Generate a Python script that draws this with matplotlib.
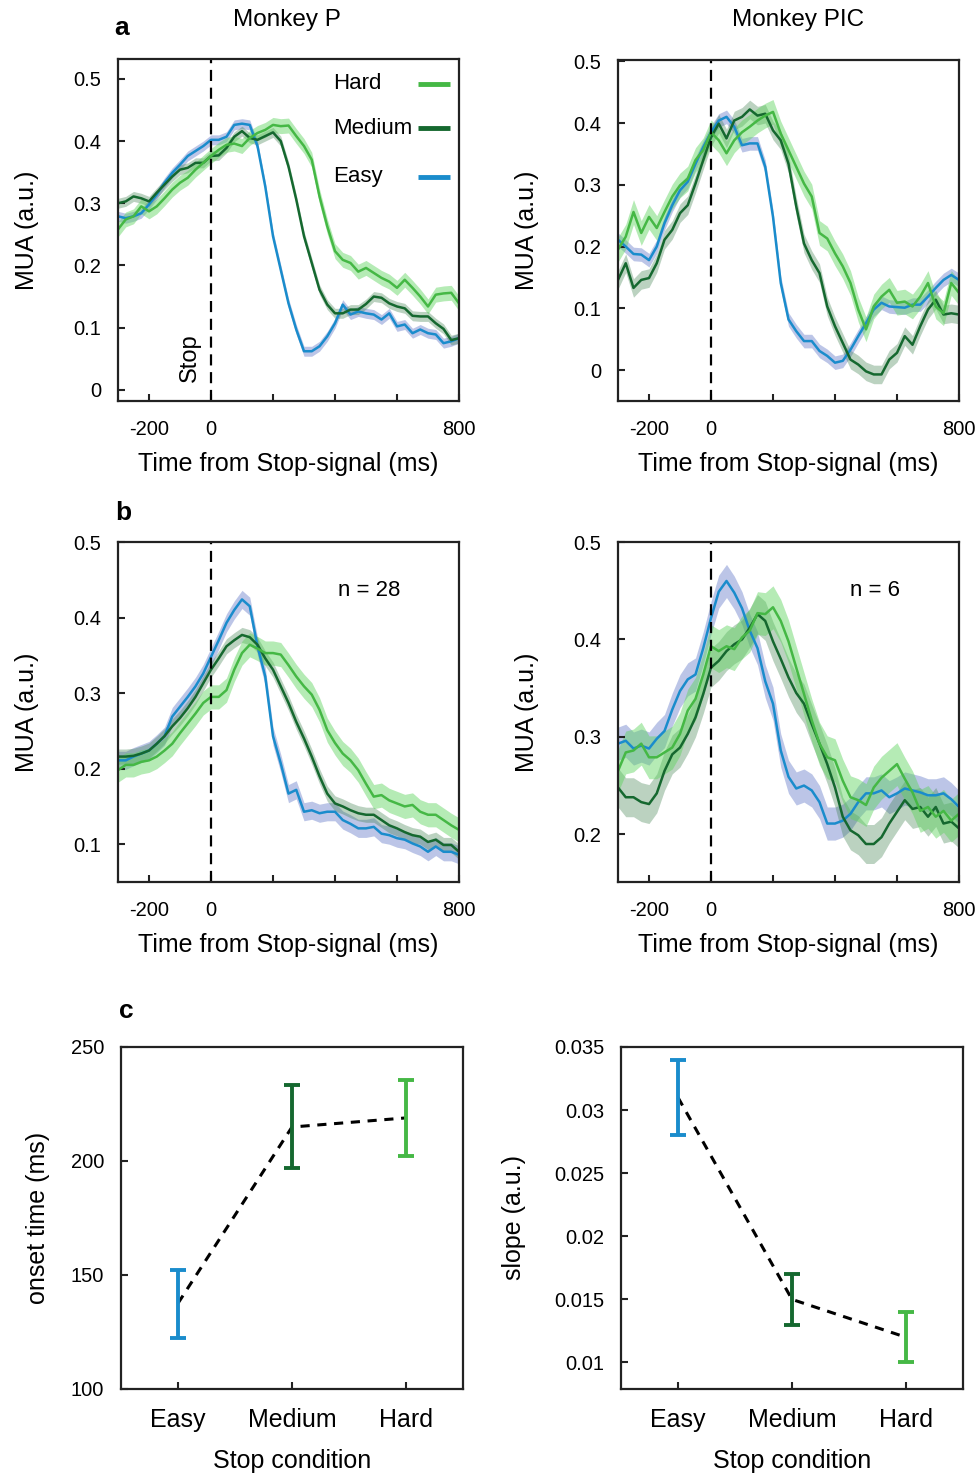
import numpy as np
import matplotlib
matplotlib.use("Agg")
import matplotlib.pyplot as plt
import matplotlib.transforms as mtransforms

plt.rcParams['font.family'] = ['Liberation Sans', 'DejaVu Sans']

# ---------------- data ----------------
time_ms = np.arange(-300, 801, 25)
conditions = ["Easy", "Medium", "Hard"]
colors = {"Easy": "#1a8ccc", "Medium": "#15682f", "Hard": "#45b845"}
fill_colors = {"Easy": "#7a8dd0", "Medium": "#3d7f4d", "Hard": "#5cd35c"}
fill_alpha = {"Easy": 0.5, "Medium": 0.35, "Hard": 0.45}

# panel a, Monkey P
p_easy = [0.279, 0.276, 0.279, 0.284, 0.298, 0.314, 0.333, 0.349, 0.362, 0.376, 0.384, 0.392,
          0.402, 0.402, 0.407, 0.426, 0.428, 0.426, 0.392, 0.327, 0.247, 0.193, 0.139, 0.097,
          0.062, 0.062, 0.070, 0.086, 0.107, 0.137, 0.121, 0.126, 0.123, 0.121, 0.113, 0.123,
          0.102, 0.105, 0.091, 0.097, 0.091, 0.089, 0.075, 0.078, 0.083]
p_medium = [0.300, 0.303, 0.311, 0.308, 0.303, 0.317, 0.330, 0.343, 0.354, 0.357, 0.365, 0.365,
            0.376, 0.377, 0.389, 0.407, 0.416, 0.405, 0.402, 0.408, 0.414, 0.400, 0.359, 0.306,
            0.247, 0.204, 0.161, 0.137, 0.123, 0.123, 0.129, 0.129, 0.138, 0.150, 0.148, 0.139,
            0.134, 0.131, 0.119, 0.118, 0.118, 0.107, 0.098, 0.080, 0.083]
p_hard = [0.258, 0.274, 0.279, 0.295, 0.287, 0.295, 0.308, 0.322, 0.333, 0.341, 0.354, 0.365,
          0.376, 0.386, 0.394, 0.396, 0.392, 0.405, 0.413, 0.418, 0.426, 0.424, 0.425, 0.408,
          0.392, 0.370, 0.311, 0.263, 0.223, 0.209, 0.204, 0.190, 0.196, 0.188, 0.180, 0.174,
          0.164, 0.177, 0.164, 0.150, 0.134, 0.153, 0.155, 0.156, 0.139]
p_sem = [0.008, 0.008, 0.012]

# panel a, Monkey PIC
pic_easy = [0.211, 0.200, 0.188, 0.187, 0.178, 0.200, 0.238, 0.267, 0.291, 0.305, 0.334, 0.361,
            0.385, 0.404, 0.410, 0.394, 0.364, 0.367, 0.367, 0.329, 0.248, 0.141, 0.082, 0.063,
            0.047, 0.047, 0.031, 0.023, 0.012, 0.015, 0.033, 0.055, 0.076, 0.098, 0.109, 0.103,
            0.102, 0.101, 0.106, 0.106, 0.119, 0.133, 0.146, 0.154, 0.146]
pic_medium = [0.146, 0.173, 0.133, 0.146, 0.149, 0.173, 0.211, 0.227, 0.254, 0.267, 0.302, 0.340,
              0.377, 0.399, 0.375, 0.404, 0.410, 0.422, 0.412, 0.415, 0.388, 0.372, 0.334, 0.265,
              0.205, 0.178, 0.157, 0.103, 0.071, 0.044, 0.017, 0.009, -0.002, -0.007, -0.007, 0.017,
              0.028, 0.055, 0.041, 0.071, 0.098, 0.114, 0.090, 0.092, 0.090]
pic_hard = [0.195, 0.216, 0.256, 0.222, 0.248, 0.230, 0.256, 0.281, 0.299, 0.310, 0.340, 0.356,
            0.385, 0.372, 0.351, 0.372, 0.385, 0.394, 0.404, 0.412, 0.418, 0.383, 0.356, 0.329,
            0.302, 0.281, 0.222, 0.213, 0.189, 0.168, 0.141, 0.098, 0.066, 0.103, 0.119, 0.130,
            0.109, 0.111, 0.103, 0.119, 0.141, 0.103, 0.092, 0.141, 0.125]
pic_sem = [0.011, 0.015, 0.02]

# panel b, Monkey P population (n = 28)
pop_p_easy = [0.211, 0.211, 0.216, 0.220, 0.224, 0.233, 0.243, 0.269, 0.282, 0.295, 0.309, 0.326,
              0.348, 0.370, 0.393, 0.410, 0.424, 0.415, 0.362, 0.322, 0.243, 0.207, 0.167, 0.172,
              0.143, 0.145, 0.141, 0.143, 0.143, 0.132, 0.127, 0.121, 0.121, 0.123, 0.114, 0.112,
              0.108, 0.106, 0.101, 0.097, 0.090, 0.097, 0.090, 0.090, 0.086]
pop_p_medium = [0.216, 0.216, 0.217, 0.220, 0.224, 0.233, 0.243, 0.256, 0.267, 0.280, 0.295, 0.313,
                0.331, 0.346, 0.362, 0.370, 0.377, 0.374, 0.364, 0.346, 0.331, 0.309, 0.287, 0.262,
                0.240, 0.216, 0.190, 0.167, 0.154, 0.150, 0.145, 0.141, 0.139, 0.139, 0.132, 0.125,
                0.121, 0.116, 0.112, 0.110, 0.103, 0.106, 0.099, 0.099, 0.090]
pop_p_hard = [0.198, 0.205, 0.205, 0.209, 0.211, 0.216, 0.224, 0.233, 0.247, 0.260, 0.273, 0.287,
              0.295, 0.295, 0.304, 0.331, 0.353, 0.364, 0.359, 0.353, 0.353, 0.351, 0.337, 0.322,
              0.309, 0.298, 0.278, 0.251, 0.234, 0.220, 0.211, 0.198, 0.180, 0.163, 0.165, 0.158,
              0.154, 0.150, 0.152, 0.143, 0.139, 0.139, 0.132, 0.125, 0.119]
pop_p_sem = [0.012, 0.01, 0.016]

# panel b, Monkey PIC population (n = 6)
pop_pic_easy = [0.293, 0.296, 0.288, 0.291, 0.288, 0.298, 0.306, 0.328, 0.347, 0.359, 0.364, 0.391,
                0.422, 0.449, 0.460, 0.448, 0.432, 0.409, 0.391, 0.357, 0.334, 0.286, 0.259, 0.247,
                0.250, 0.245, 0.233, 0.211, 0.211, 0.214, 0.221, 0.233, 0.242, 0.242, 0.245, 0.238,
                0.242, 0.247, 0.245, 0.243, 0.240, 0.240, 0.242, 0.236, 0.228]
pop_pic_medium = [0.248, 0.238, 0.238, 0.233, 0.231, 0.242, 0.265, 0.282, 0.289, 0.303, 0.320, 0.344,
                  0.371, 0.378, 0.388, 0.395, 0.400, 0.412, 0.426, 0.419, 0.398, 0.380, 0.361, 0.345,
                  0.334, 0.313, 0.293, 0.272, 0.248, 0.218, 0.204, 0.199, 0.190, 0.190, 0.197, 0.211,
                  0.223, 0.235, 0.226, 0.228, 0.218, 0.228, 0.211, 0.213, 0.206]
pop_pic_hard = [0.265, 0.284, 0.286, 0.293, 0.279, 0.279, 0.284, 0.289, 0.303, 0.327, 0.339, 0.364,
                0.393, 0.388, 0.393, 0.390, 0.402, 0.409, 0.427, 0.426, 0.433, 0.419, 0.398, 0.371,
                0.344, 0.317, 0.293, 0.279, 0.276, 0.255, 0.238, 0.235, 0.230, 0.248, 0.258, 0.265,
                0.272, 0.257, 0.243, 0.224, 0.228, 0.218, 0.224, 0.214, 0.221]
pop_pic_sem = [0.017, 0.02, 0.022]

# panel c
onset_mean = [137.6, 214.9, 218.9]
onset_low = [122.2, 197.1, 202.0]
onset_high = [152.1, 233.2, 235.7]
slope_mean = [0.031, 0.015, 0.012]
slope_low = [0.028, 0.013, 0.010]
slope_high = [0.034, 0.017, 0.014]

# ---------------- plotting ----------------
fig = plt.figure(figsize=(9.77, 14.75), dpi=100)

W, H = 977.0, 1475.0
def box(x0, y0, x1, y1):
    return [x0 / W, 1 - y1 / H, (x1 - x0) / W, (y1 - y0) / H]

ax_tl = fig.add_axes(box(118, 59, 459, 401))
ax_tr = fig.add_axes(box(618, 60, 959, 401))
ax_ml = fig.add_axes(box(118, 542, 459, 882))
ax_mr = fig.add_axes(box(618, 542, 959, 882))
ax_bl = fig.add_axes(box(121, 1047, 463, 1389))
ax_br = fig.add_axes(box(621, 1047, 963, 1389))

tick_fs = 14.5
label_fs = 18

def style(ax):
    for s in ax.spines.values():
        s.set_linewidth(1.6)
        s.set_color('#222222')
    ax.tick_params(direction='in', length=5, width=1.5, color='#222222',
                   labelsize=tick_fs, pad=12)

def ts_panel(ax, series, sems, ylim, yticks):
    for cond, vals, sem in zip(conditions, series, sems):
        v = np.array(vals)
        ax.fill_between(time_ms, v - sem, v + sem, color=fill_colors[cond],
                        alpha=fill_alpha[cond], lw=0)
    for cond, vals in zip(conditions, series):
        ax.plot(time_ms, vals, color=colors[cond], lw=1.8, label=cond)
    ax.axvline(0, color='black', ls=(0, (5, 3)), lw=1.6)
    ax.set_xlim(-300, 800)
    ax.set_ylim(*ylim)
    ax.set_xticks([-200, 0, 200, 400, 600, 800])
    ax.set_xticklabels(['-200', '0', '', '', '', '800'])
    ax.set_yticks(yticks)
    ax.set_yticklabels(['0' if t == 0 else '%.1f' % t for t in yticks])
    ax.set_xlabel('Time from Stop-signal (ms)', fontsize=label_fs, labelpad=9)
    ax.set_ylabel('MUA (a.u.)', fontsize=label_fs, labelpad=25)
    style(ax)
    ax.tick_params(axis='x', pad=14)

ts_panel(ax_tl, [p_easy, p_medium, p_hard], p_sem, (-0.018, 0.532),
         [0, 0.1, 0.2, 0.3, 0.4, 0.5])
ts_panel(ax_tr, [pic_easy, pic_medium, pic_hard], pic_sem, (-0.05, 0.502),
         [0, 0.1, 0.2, 0.3, 0.4, 0.5])
ts_panel(ax_ml, [pop_p_easy, pop_p_medium, pop_p_hard], pop_p_sem, (0.05, 0.5),
         [0.1, 0.2, 0.3, 0.4, 0.5])
ts_panel(ax_mr, [pop_pic_easy, pop_pic_medium, pop_pic_hard], pop_pic_sem, (0.151, 0.5),
         [0.2, 0.3, 0.4, 0.5])

# legend: label on the left (left aligned), short line on the right, Hard on top
legend_y = [0.655, 0.798, 0.927]
for cond, ly in zip(conditions, legend_y):
    ax_tl.text(0.63, ly, cond, fontsize=16, transform=ax_tl.transAxes,
               ha='left', va='center')
    ax_tl.plot([0.88, 0.974], [ly, ly], color=colors[cond], lw=3.5,
               transform=ax_tl.transAxes, solid_capstyle='butt')

# "Stop" label next to the stop-signal line
stop_tr = mtransforms.blended_transform_factory(ax_tl.transData, ax_tl.transAxes)
ax_tl.text(-102, 0.056, 'Stop', rotation=90, fontsize=17,
           transform=stop_tr, ha='left', va='bottom')
ax_ml.text(0.645, 0.84, 'n = 28', fontsize=16, transform=ax_ml.transAxes)
ax_mr.text(0.68, 0.84, 'n = 6', fontsize=16, transform=ax_mr.transAxes)

# panel c
xpos = np.arange(1, 4)
for ax, mean, low, high in [(ax_bl, onset_mean, onset_low, onset_high),
                            (ax_br, slope_mean, slope_low, slope_high)]:
    ax.plot(xpos, mean, color='black', ls=(0, (3, 2.5)), lw=2.2, zorder=1)
    for i, cond in enumerate(conditions):
        ax.errorbar([xpos[i]], [mean[i]],
                    yerr=[[mean[i] - low[i]], [high[i] - mean[i]]],
                    fmt='none', ecolor=colors[cond], elinewidth=2.8,
                    capsize=6, capthick=2.8, zorder=2)
    ax.set_xlim(0.5, 3.5)
    ax.set_xticks(xpos)
    ax.set_xticklabels(conditions, fontsize=label_fs)
    ax.set_xlabel('Stop condition', fontsize=label_fs, labelpad=12)
    style(ax)
    ax.tick_params(axis='x', pad=14, labelsize=label_fs)

ax_bl.set_ylim(100, 250)
ax_bl.set_yticks([100, 150, 200, 250])
ax_bl.set_ylabel('onset time (ms)', fontsize=label_fs, labelpad=15)
ax_br.set_ylim(0.0079, 0.035)
ax_br.set_yticks([0.01, 0.015, 0.02, 0.025, 0.03, 0.035])
ax_br.set_yticklabels(['0.01', '0.015', '0.02', '0.025', '0.03', '0.035'])
ax_br.set_ylabel('slope (a.u.)', fontsize=label_fs, labelpad=20)

# titles and panel letters
fig.text(287 / W, 1 - 20 / H, 'Monkey P', fontsize=17.5, ha='center', va='center')
fig.text(798 / W, 1 - 20 / H, 'Monkey PIC', fontsize=17.5, ha='center', va='center')
fig.text(122 / W, 1 - 28 / H, 'a', fontsize=19, fontweight='bold', ha='center', va='center')
fig.text(123 / W, 1 - 513 / H, 'b', fontsize=19, fontweight='bold', ha='center', va='center')
fig.text(126 / W, 1 - 1011 / H, 'c', fontsize=19, fontweight='bold', ha='center', va='center')

fig.savefig('out.png', dpi=100)
